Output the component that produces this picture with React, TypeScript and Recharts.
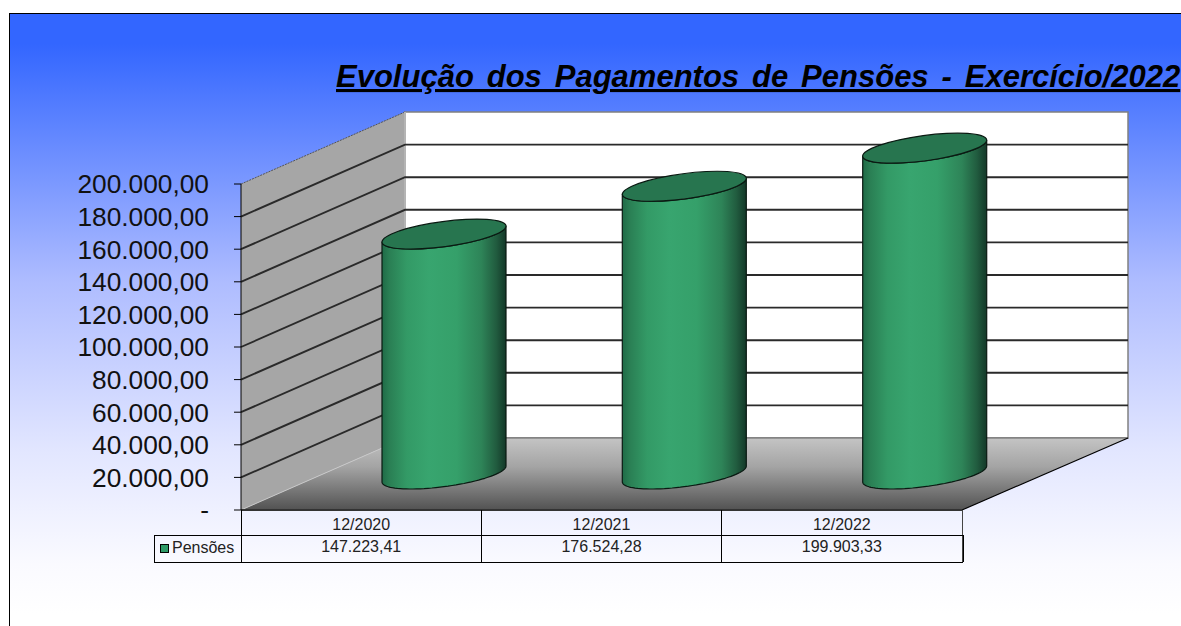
import { Bar, ComposedChart, Customized, XAxis, YAxis } from "recharts";

const CATEGORIES = ["12/2020", "12/2021", "12/2022"];
const PENSOES = [147223.41, 176524.28, 199903.33];
const Y_TICKS = [0, 20000, 40000, 60000, 80000, 100000, 120000, 140000, 160000, 180000, 200000];
const Y_MAX = 200000;

const chartData = CATEGORIES.map((category, i) => ({
  category,
  label: PENSOES[i].toLocaleString("pt-BR", { minimumFractionDigits: 2 }),
  value: PENSOES[i],
}));

// front plane of the fake 3d box, back wall sits DEPTH_X/DEPTH_Y away
const LEFT = 241;
const RIGHT = 962;
const BACK_RIGHT = 1128;
const TOP = 184;
const BOTTOM = 510;
const DEPTH_X = 164;
const DEPTH_Y = 72;

const FONT = "'Liberation Sans', Arial, sans-serif";

const valueToY = (v: number) => BOTTOM - ((BOTTOM - TOP) * v) / Y_MAX;

const formatTick = (v: number) =>
  v === 0 ? "-" : v.toLocaleString("pt-BR", { minimumFractionDigits: 2 });

function Walls() {
  const bx = LEFT + DEPTH_X;
  const by = BOTTOM - DEPTH_Y;
  const ty = TOP - DEPTH_Y;
  return (
    <g>
      <defs>
        <linearGradient id="floor" x1="0" y1="0" x2="0" y2="1">
          <stop offset="0%" stopColor="#c4c4c4" />
          <stop offset="40%" stopColor="#a4a4a4" />
          <stop offset="100%" stopColor="#525252" />
        </linearGradient>
        <linearGradient id="cyl" x1="0" y1="0" x2="1" y2="0">
          <stop offset="0%" stopColor="#1f6b47" />
          <stop offset="6%" stopColor="#2a7f54" />
          <stop offset="20%" stopColor="#339a66" />
          <stop offset="38%" stopColor="#38a56f" />
          <stop offset="60%" stopColor="#35a06a" />
          <stop offset="80%" stopColor="#2e8458" />
          <stop offset="92%" stopColor="#215c3f" />
          <stop offset="100%" stopColor="#133828" />
        </linearGradient>
      </defs>
      <rect x={bx} y={ty} width={BACK_RIGHT - bx} height={by - ty} fill="#fff" stroke="#808080" strokeWidth={1.5} />
      <polygon
        points={`${LEFT},${TOP} ${bx},${ty} ${bx},${by} ${LEFT},${BOTTOM}`}
        fill="#a6a6a6"
      />
      <line x1={LEFT} y1={TOP} x2={bx} y2={ty} stroke="#555" strokeDasharray="2 1" />
      <line x1={bx} y1={ty} x2={bx} y2={by} stroke="#b4b4b4" strokeWidth={2} />
      {Y_TICKS.filter((t) => t > 0 && t < Y_MAX).map((t) => {
        const y = valueToY(t);
        return (
          <polyline
            key={t}
            points={`${LEFT},${y} ${bx},${y - DEPTH_Y} ${BACK_RIGHT},${y - DEPTH_Y}`}
            fill="none"
            stroke="#2a2a2a"
            strokeWidth={1.9}
          />
        );
      })}
      <polygon
        points={`${LEFT},${BOTTOM} ${bx},${by} ${BACK_RIGHT},${by} ${RIGHT},${BOTTOM}`}
        fill="url(#floor)"
      />
      <line x1={bx} y1={by} x2={BACK_RIGHT} y2={by} stroke="#666" />
      <line x1={LEFT} y1={BOTTOM} x2={bx} y2={by} stroke="#c8c8c8" />
      <line x1={RIGHT} y1={BOTTOM} x2={BACK_RIGHT} y2={by} stroke="#000" strokeWidth={1.2} />
      <line x1={LEFT} y1={BOTTOM} x2={RIGHT} y2={BOTTOM} stroke="#333" strokeWidth={2} />
    </g>
  );
}

function DataTable() {
  const cols = [LEFT, 481, 721, RIGHT];
  const rowA = 535;
  const rowB = 562;
  const keyX = 154;
  return (
    <g stroke="#000" strokeWidth={1} shapeRendering="crispEdges">
      {cols.map((x) => (
        <line key={x} x1={x} y1={BOTTOM} x2={x} y2={rowB} stroke={x === RIGHT ? "#444" : "#000"} />
      ))}
      <line x1={RIGHT + 1} y1={rowA} x2={RIGHT + 1} y2={rowB} />
      <line x1={keyX} y1={rowA} x2={RIGHT + 1} y2={rowA} />
      <line x1={keyX} y1={rowB} x2={RIGHT + 1} y2={rowB} />
      <line x1={keyX} y1={rowA} x2={keyX} y2={rowB} />
      <rect x={160} y={544} width={8} height={8} fill="#2e9a67" />
      <text x={172} y={553} fontSize={16} fontFamily={FONT} fill="#222" stroke="none">
        Pensões
      </text>
    </g>
  );
}

function Title() {
  return (
    <text
      x={336}
      y={87}
      fontFamily={FONT}
      fontSize={31}
      fontWeight="bold"
      fontStyle="italic"
      textDecoration="underline"
      wordSpacing={4.3}
      fill="#000"
    >
      Evolução dos Pagamentos de Pensões - Exercício/2022
    </text>
  );
}

// cylinder standing halfway into the box depth
function Cylinder(props: any) {
  const { x, y, width, height } = props;
  const cx = x + width / 2 + DEPTH_X / 2 + 0.5;
  const topY = y - DEPTH_Y / 2;
  const botY = y + height - DEPTH_Y / 2;
  const ax = width / 2;
  const bx = 33;
  const by = -15;
  const t0 = Math.atan2(bx, ax);

  const pt = (t: number, cy: number) =>
    `${(cx + ax * Math.cos(t) + bx * Math.sin(t)).toFixed(1)},${(cy + by * Math.sin(t)).toFixed(1)}`;

  const steps = 48;
  const body: string[] = [];
  // top rim front half, right to left
  for (let i = 0; i <= steps; i++) body.push(pt(t0 - (Math.PI * i) / steps, topY));
  // bottom rim front half, left to right
  for (let i = 0; i <= steps; i++) body.push(pt(t0 - Math.PI + (Math.PI * i) / steps, botY));

  return (
    <g>
      <polygon points={body.join(" ")} fill="url(#cyl)" stroke="#0a1a12" strokeWidth={1.2} strokeLinejoin="round" />
      <circle
        r={1}
        transform={`matrix(${ax} 0 ${bx} ${by} ${cx} ${topY})`}
        fill="#27754f"
        stroke="#0a1a12"
        strokeWidth={1.2}
        vectorEffect="non-scaling-stroke"
      />
    </g>
  );
}

export default function App() {
  return (
    <div
      style={{
        position: "absolute",
        left: 0,
        top: 0,
        width: 1181,
        height: 626,
        overflow: "hidden",
        background: "#fff",
      }}
    >
      <div
        style={{
          position: "absolute",
          left: 9,
          top: 13,
          width: 1172,
          height: 613,
          borderLeft: "1px solid #000",
          borderTop: "1px solid #000",
          background:
            "linear-gradient(to bottom, #3366ff 0px, #3366ff 30px, #aebcff 267px, #e2e6ff 437px, #fafaff 550px, #ffffff 600px)",
        }}
      />
      <div style={{ position: "absolute", left: 0, top: 0 }}>
        <ComposedChart
          width={1181}
          height={626}
          data={chartData}
          margin={{ left: 0, top: TOP, right: 1181 - RIGHT, bottom: 64 }}
          barCategoryGap={0}
        >
          <Customized component={<Walls />} />
          <Customized component={<Title />} />
          <XAxis
            dataKey="category"
            xAxisId={0}
            height={25}
            axisLine={false}
            tickLine={false}
            tickMargin={3}
            tick={{ fontSize: 16, fontFamily: FONT, fill: "#222" }}
            interval={0}
          />
          <XAxis
            dataKey="label"
            xAxisId={1}
            height={27}
            axisLine={false}
            tickLine={false}
            tickMargin={0}
            tick={{ fontSize: 16, fontFamily: FONT, fill: "#222" }}
            interval={0}
          />
          <YAxis
            width={LEFT}
            domain={[0, Y_MAX]}
            ticks={Y_TICKS}
            tickFormatter={formatTick}
            tickSize={7}
            tickMargin={25}
            interval={0}
            axisLine={{ stroke: "#000", strokeWidth: 1 }}
            tickLine={{ stroke: "#000" }}
            tick={{ fontSize: 26.3, fontFamily: FONT, fill: "#111" }}
          />
          <Bar dataKey="value" barSize={105} isAnimationActive={false} shape={<Cylinder />} xAxisId={0} />
          <Customized component={<DataTable />} />
        </ComposedChart>
      </div>
    </div>
  );
}
